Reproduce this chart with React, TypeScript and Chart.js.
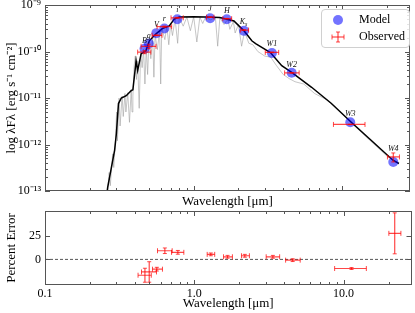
import React, { useEffect, useRef } from "react";
import { Chart, registerables } from "chart.js";
Chart.register(...registerables);

const FONT = "'Liberation Serif', 'Times New Roman', serif";
const RED = "rgba(255,0,0,0.72)";
const BLUE = "rgba(0,0,255,0.55)";
const XMIN = 0.1;
const XMAX = 28.5;

// Photometric bands
const bands = ["B", "g", "V", "r", "i", "J", "H", "Ks", "W1", "W2", "W3", "W4"];
const bandWave = [0.467, 0.499, 0.561, 0.635, 0.776, 1.29, 1.67, 2.18, 3.36, 4.56, 11.3, 22.0];
const bandLo = [0.42, 0.443, 0.525, 0.567, 0.704, 1.22, 1.57, 2.07, 3.03, 4.09, 8.71, 20.1];
const bandHi = [0.515, 0.558, 0.612, 0.711, 0.851, 1.37, 1.8, 2.34, 3.73, 5.12, 14.2, 24.2];
const modelFlux = [1.15e-10, 1.48e-10, 2.48e-10, 3.11e-10, 4.94e-10, 5.19e-10, 4.94e-10, 2.78e-10, 9.3e-11, 3.5e-11, 3.0e-12, 4.2e-13];
const obsFlux = [0.97e-10, 1.29e-10, 2.23e-10, 3.42e-10, 5.3e-10, 5.47e-10, 5.08e-10, 2.89e-10, 9.56e-11, 3.47e-11, 2.7e-12, 5.4e-13];
const residual = [-17, -13.5, -10.5, 9.3, 7.6, 5.4, 2.8, 3.9, 2.8, -0.8, -9.8, 28];
const residualErr = [7.5, 11, 2, 3, 2, 1.5, 1.5, 1.5, 1.5, 1.5, 1, 22];

// Best-fit model (smoothed): [wavelength µm, λFλ]
const modelCurve: [number, number][] = [
  [0.255, 5e-14], [0.264, 1.2e-13], [0.294, 7.6e-13], [0.302, 1.7e-12], [0.312, 7.6e-12], [0.326, 1.0e-11],
  [0.352, 1.12e-11], [0.381, 1.45e-11], [0.39, 1.5e-11], [0.41, 6.3e-11], [0.42, 3.9e-11], [0.443, 8.9e-11],
  [0.478, 1.05e-10], [0.503, 1.7e-10], [0.558, 2.4e-10], [0.615, 3.1e-10], [0.685, 3.55e-10], [0.74, 5.0e-10],
  [0.8, 5.5e-10], [1.0, 5.6e-10], [1.2, 5.55e-10], [1.5, 5.4e-10], [1.7, 4.9e-10], [1.866, 4.55e-10],
  [2.18, 2.78e-10], [2.46, 1.7e-10], [2.61, 1.48e-10], [3.28, 9.5e-11], [3.91, 4.95e-11], [4.56, 3.57e-11],
  [6.21, 1.7e-11], [8.44, 7.6e-12], [11.48, 3.0e-12], [15.6, 1.23e-12], [21.9, 4.6e-13], [24.0, 3.9e-13],
];

// High resolution spectrum (grey): [wavelength µm, λFλ]
const spectrum: [number, number][] = [
  [0.258, 4e-14], [0.27, 2.5e-13], [0.275, 1.3e-13], [0.285, 6.3e-13], [0.29, 3.2e-13], [0.298, 1.3e-12],
  [0.303, 5e-12], [0.307, 1.2e-12], [0.315, 1e-11], [0.32, 2.5e-12], [0.33, 1.1e-11], [0.336, 4e-12],
  [0.345, 1.25e-11], [0.35, 5e-12], [0.36, 1.3e-11], [0.37, 3e-12], [0.38, 1.5e-11], [0.385, 5e-12],
  [0.39, 1.1e-11], [0.398, 5e-11], [0.405, 8e-11], [0.412, 2.5e-11], [0.42, 6.3e-11], [0.43, 6e-12],
  [0.44, 1e-10], [0.45, 4.5e-11], [0.46, 1.12e-10], [0.47, 2e-11], [0.48, 1.2e-10], [0.49, 3.2e-11],
  [0.5, 1.6e-10], [0.515, 7e-11], [0.53, 2e-10], [0.54, 2.8e-11], [0.55, 2.24e-10], [0.57, 1.1e-10],
  [0.59, 2.8e-10], [0.6, 2e-11], [0.61, 3.2e-10], [0.64, 1.8e-10], [0.66, 3.5e-10], [0.68, 1.4e-10],
  [0.7, 3.8e-10], [0.72, 2.2e-10], [0.75, 5e-10], [0.78, 1.5e-10], [0.8, 5.4e-10], [0.85, 3.5e-10],
  [0.9, 5.5e-10], [0.95, 2.8e-10], [1.0, 5.6e-10], [1.05, 1.6e-10], [1.1, 5.5e-10], [1.15, 4e-10],
  [1.2, 5.5e-10], [1.3, 4.8e-10], [1.4, 5.4e-10], [1.45, 1.3e-10], [1.5, 5.3e-10], [1.6, 3.8e-10],
  [1.7, 5.0e-10], [1.75, 3e-10], [1.85, 4.4e-10], [1.9, 2.5e-10], [2.0, 3.8e-10], [2.1, 1.3e-10],
  [2.2, 2.7e-10], [2.35, 1.5e-10], [2.5, 1.4e-10], [2.7, 1.0e-10], [3.0, 8e-11], [3.3, 7.5e-11],
  [3.6, 5e-11], [4.0, 3.2e-11], [4.4, 2.6e-11], [4.8, 2.24e-11], [5.5, 2e-11], [6.5, 1.25e-11],
  [8.0, 8.9e-12], [10, 4.5e-12], [14, 1.6e-12], [20, 5.6e-13], [24, 3.8e-13],
];

const residTickValues = [-25, 0, 25];

function supNum(n: number) {
  const map: Record<string, string> = { "-": "⁻", "0": "⁰", "1": "¹", "2": "²", "3": "³", "4": "⁴", "5": "⁵", "6": "⁶", "7": "⁷", "8": "⁸", "9": "⁹" };
  return String(n).split("").map((c) => map[c] || c).join("");
}
function isDecade(v: number) {
  const l = Math.log10(v);
  return Math.abs(l - Math.round(l)) < 1e-6;
}
function isLogTick(v: number) {
  const e = Math.floor(Math.log10(v) + 1e-9);
  const m = v / Math.pow(10, e);
  return Math.abs(m - Math.round(m)) < 1e-6;
}

function hBars(ys: number[]) {
  const d: any[] = [];
  ys.forEach((y, i) => {
    d.push({ x: bandLo[i], y }, { x: bandHi[i], y }, { x: bandHi[i], y: null });
  });
  return d;
}
function vBars(lo: number[], hi: number[]) {
  const d: any[] = [];
  lo.forEach((l, i) => {
    d.push({ x: bandWave[i], y: l }, { x: bandWave[i], y: hi[i] }, { x: bandWave[i], y: null });
  });
  return d;
}

const frameTicks = {
  id: "frameTicks",
  afterDraw(chart: any, _a: any, opts: any) {
    const { ctx, chartArea } = chart;
    const { left, right, top, bottom } = chartArea;
    ctx.save();
    ctx.strokeStyle = "#555";
    ctx.lineWidth = 1;
    ctx.beginPath();
    const xs = chart.scales.x;
    for (const t of xs.ticks) {
      const v = t.value;
      if (!isLogTick(v)) continue;
      const len = isDecade(v) ? 5 : 3;
      const px = Math.round(xs.getPixelForValue(v)) + 0.5;
      if (px < left - 0.5 || px > right + 0.5) continue;
      ctx.moveTo(px, bottom);
      ctx.lineTo(px, bottom - len);
      ctx.moveTo(px, top);
      ctx.lineTo(px, top + len);
    }
    const ys = chart.scales.y;
    for (const t of ys.ticks) {
      const v = t.value;
      let len = 5;
      if (ys.type === "logarithmic") {
        if (!isLogTick(v)) continue;
        len = isDecade(v) ? 5 : 3;
      } else if (!(opts.yValues || []).includes(v)) continue;
      const py = Math.round(ys.getPixelForValue(v)) + 0.5;
      ctx.moveTo(left, py);
      ctx.lineTo(left + len, py);
      ctx.moveTo(right, py);
      ctx.lineTo(right - len, py);
    }
    ctx.stroke();
    ctx.strokeRect(Math.round(left) + 0.5, Math.round(top) + 0.5, Math.round(right - left) - 1, Math.round(bottom - top) - 1);
    ctx.restore();
  },
};

const bandLabels = {
  id: "bandLabels",
  afterDatasetsDraw(chart: any) {
    const { ctx } = chart;
    const xs = chart.scales.x;
    const ys = chart.scales.y;
    ctx.save();
    ctx.fillStyle = "#111";
    ctx.textAlign = "center";
    ctx.textBaseline = "alphabetic";
    bands.forEach((b, i) => {
      const x = xs.getPixelForValue(bandWave[i]);
      const y = ys.getPixelForValue(Math.max(modelFlux[i], obsFlux[i])) - 6;
      ctx.font = `italic 8px ${FONT}`;
      if (b === "Ks") {
        ctx.textAlign = "right";
        ctx.fillText("K", x + 1, y);
        ctx.textAlign = "left";
        ctx.font = `italic 6px ${FONT}`;
        ctx.fillText("s", x + 1, y + 2);
        ctx.textAlign = "center";
      } else {
        ctx.fillText(b, x, y);
      }
    });
    ctx.restore();
  },
};

export default function App() {
  const topRef = useRef<HTMLCanvasElement>(null);
  const botRef = useRef<HTMLCanvasElement>(null);

  useEffect(() => {
    const obsLo = obsFlux.map((f, i) => f * (1 - residualErr[i] / 100));
    const obsHi = obsFlux.map((f, i) => f * (1 + residualErr[i] / 100));
    const capH = { pointStyle: "line", pointRadius: 2.5, pointRotation: 90, pointBorderColor: RED, pointBorderWidth: 1, pointHoverRadius: 0 };
    const capV = { pointStyle: "line", pointRadius: 2, pointRotation: 0, pointBorderColor: RED, pointBorderWidth: 1, pointHoverRadius: 0 };

    const top = new Chart(topRef.current!, {
      type: "line",
      data: {
        datasets: [
          { data: hBars(obsFlux), borderColor: RED, borderWidth: 1.2, showLine: true, spanGaps: false, ...capH } as any,
          { data: vBars(obsLo, obsHi), borderColor: RED, borderWidth: 1.2, showLine: true, spanGaps: false, ...capV } as any,
          { data: bandWave.map((w, i) => ({ x: w, y: modelFlux[i] })), showLine: false, pointRadius: 5, pointBackgroundColor: BLUE, pointBorderWidth: 0, pointHoverRadius: 0 } as any,
          { data: modelCurve.map(([w, f]) => ({ x: w, y: f })), borderColor: "#000", borderWidth: 1.5, pointRadius: 0, showLine: true } as any,
          { data: spectrum.map(([w, f]) => ({ x: w, y: f })), borderColor: "rgba(160,160,160,0.6)", borderWidth: 1, pointRadius: 0, showLine: true } as any,
        ],
      },
      options: {
        animation: false,
        responsive: false,
        events: [],
        layout: { padding: { top: 4, right: 3, left: 0, bottom: 0 } },
        plugins: { legend: { display: false }, tooltip: { enabled: false }, frameTicks: {} } as any,
        scales: {
          x: {
            type: "logarithmic",
            min: XMIN,
            max: XMAX,
            grid: { display: false, drawTicks: false },
            border: { display: false },
            ticks: { display: false, autoSkip: false },
            title: { display: true, text: "Wavelength [μm]", color: "#000", font: { family: FONT, size: 13 }, padding: { top: 0, bottom: 4 } },
            afterFit: (s: any) => { s.height = 22; s.paddingLeft = 0; s.paddingRight = 0; },
          } as any,
          y: {
            type: "logarithmic",
            min: 1e-13,
            max: 1e-9,
            grid: { display: false, drawTicks: false },
            border: { display: false },
            ticks: {
              autoSkip: false,
              padding: 4,
              color: "#000",
              font: { family: FONT, size: 12 },
              callback: (v: any) => (isDecade(Number(v)) ? "10" + supNum(Math.round(Math.log10(Number(v)))) : ""),
            },
            title: { display: true, text: "log λFλ [erg s⁻¹ cm⁻²]", color: "#000", font: { family: FONT, size: 13 }, padding: { top: 4, bottom: 0 } },
            afterFit: (s: any) => { s.width = 45; s.paddingTop = 0; s.paddingBottom = 0; },
          } as any,
        },
      },
      plugins: [frameTicks, bandLabels],
    });

    const bot = new Chart(botRef.current!, {
      type: "line",
      data: {
        datasets: [
          { data: hBars(residual), borderColor: RED, borderWidth: 1.2, showLine: true, spanGaps: false, ...capH } as any,
          { data: vBars(residual.map((r, i) => r - residualErr[i]), residual.map((r, i) => r + residualErr[i])), borderColor: RED, borderWidth: 1.2, showLine: true, spanGaps: false, ...capV } as any,
          { data: [{ x: XMIN, y: 0 }, { x: XMAX, y: 0 }], borderColor: "#555", borderWidth: 1, borderDash: [3, 2], pointRadius: 0, showLine: true } as any,
        ],
      },
      options: {
        animation: false,
        responsive: false,
        events: [],
        layout: { padding: { top: 6, right: 3, left: 0, bottom: 0 } },
        plugins: { legend: { display: false }, tooltip: { enabled: false }, frameTicks: { yValues: residTickValues } } as any,
        scales: {
          x: {
            type: "logarithmic",
            min: XMIN,
            max: XMAX,
            grid: { display: false, drawTicks: false },
            border: { display: false },
            ticks: {
              autoSkip: false,
              maxRotation: 0,
              padding: 2,
              color: "#000",
              font: { family: FONT, size: 12 },
              callback: (v: any) => {
                const n = Number(v);
                if (!isDecade(n)) return "";
                return n.toFixed(1);
              },
            },
            title: { display: true, text: "Wavelength [μm]", color: "#000", font: { family: FONT, size: 13 }, padding: { top: 0, bottom: 2 } },
            afterFit: (s: any) => { s.height = 28; s.paddingLeft = 0; s.paddingRight = 0; },
          } as any,
          y: {
            type: "linear",
            min: -27.5,
            max: 52,
            grid: { display: false, drawTicks: false },
            border: { display: false },
            ticks: {
              stepSize: 25,
              autoSkip: false,
              padding: 4,
              color: "#000",
              font: { family: FONT, size: 12 },
              callback: (v: any) => {
                const n = Number(v);
                if (!residTickValues.includes(n)) return "";
                return n < 0 ? "−" + Math.abs(n) : String(n);
              },
            },
            title: { display: true, text: "Percent Error", color: "#000", font: { family: FONT, size: 13 }, padding: { top: 4, bottom: 0 } },
            afterFit: (s: any) => { s.width = 45; s.paddingTop = 0; s.paddingBottom = 0; },
          } as any,
        },
      },
      plugins: [frameTicks],
    });

    return () => {
      top.destroy();
      bot.destroy();
    };
  }, []);

  return (
    <div style={{ position: "fixed", left: 0, top: 0, width: 415, height: 313, background: "#fff", overflow: "hidden" }}>
      <canvas ref={topRef} width={415} height={213} style={{ position: "absolute", left: 0, top: 0 }} />
      <canvas ref={botRef} width={415} height={108} style={{ position: "absolute", left: 0, top: 205 }} />
      <div
        style={{
          position: "absolute",
          left: 321,
          top: 9,
          width: 87,
          height: 37,
          border: "1px solid #d0d0d0",
          borderRadius: 4,
          background: "rgba(255,255,255,0.85)",
          fontFamily: FONT,
          fontSize: 12,
          color: "#000",
        }}
      >
        <div style={{ position: "absolute", left: 11, top: 5, width: 10, height: 10, borderRadius: "50%", background: BLUE }} />
        <span style={{ position: "absolute", left: 37, top: 2, lineHeight: "15px", whiteSpace: "nowrap" }}>Model</span>
        <svg width={16} height={14} style={{ position: "absolute", left: 8, top: 20 }}>
          <line x1={2} y1={7} x2={14} y2={7} stroke={RED} strokeWidth={1.2} />
          <line x1={2} y1={4.5} x2={2} y2={9.5} stroke={RED} strokeWidth={1} />
          <line x1={14} y1={4.5} x2={14} y2={9.5} stroke={RED} strokeWidth={1} />
          <line x1={8} y1={2} x2={8} y2={12} stroke={RED} strokeWidth={1.2} />
          <line x1={6} y1={2} x2={10} y2={2} stroke={RED} strokeWidth={1} />
          <line x1={6} y1={12} x2={10} y2={12} stroke={RED} strokeWidth={1} />
        </svg>
        <span style={{ position: "absolute", left: 37, top: 19, lineHeight: "15px", whiteSpace: "nowrap" }}>Observed</span>
      </div>
    </div>
  );
}
